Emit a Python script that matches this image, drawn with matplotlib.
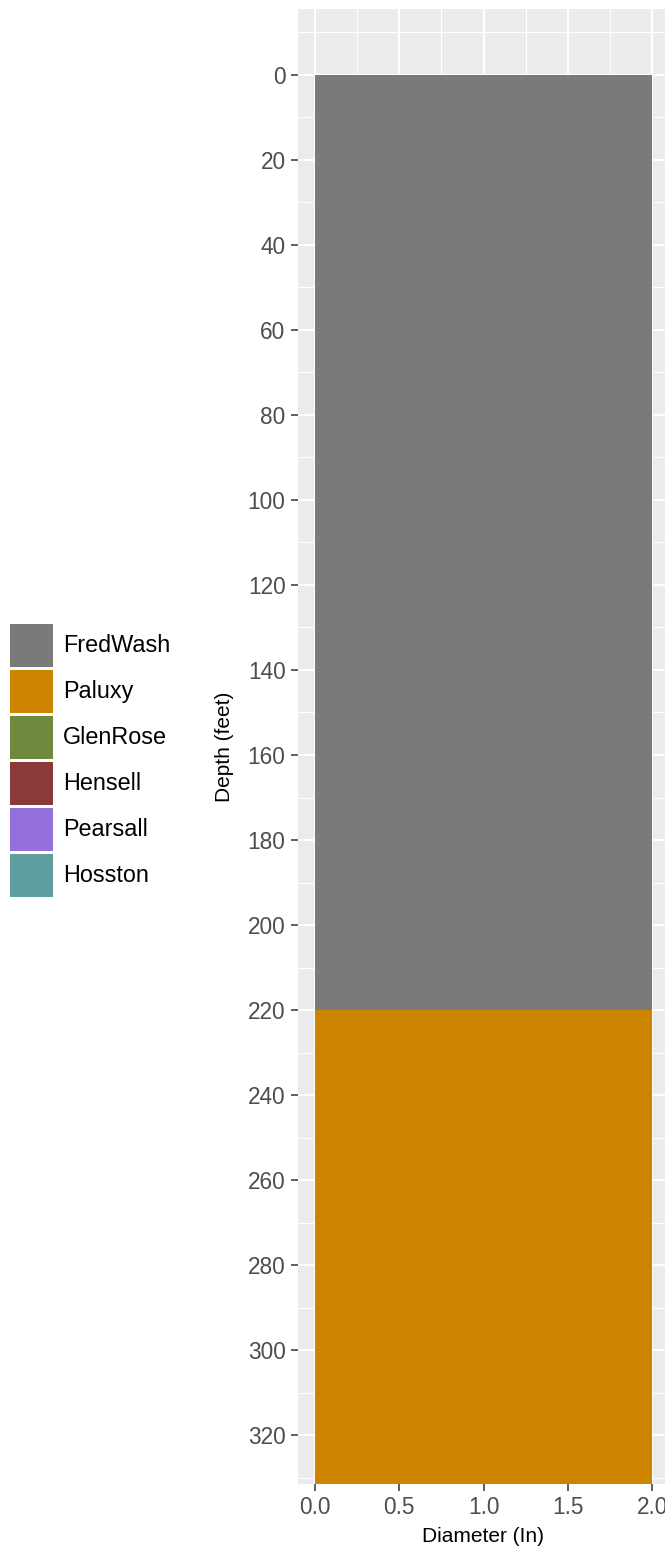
import numpy as np
import matplotlib
matplotlib.use("Agg")
import matplotlib.pyplot as plt
from matplotlib.patches import Rectangle

plt.rcParams['font.family'] = ['Liberation Sans', 'DejaVu Sans']

# formation column data
formations = ["FredWash", "Paluxy", "GlenRose", "Hensell", "Pearsall", "Hosston"]
colors = ["#7A7A7A", "#CD8500", "#6E8B3D", "#8B3A3A", "#9370DB", "#5F9EA0"]
top_depth = [0, 220]
bottom_depth = [220, 331.5]
diameter = 2.0

W, H = 665, 1551
fig = plt.figure(figsize=(W / 100, H / 100), dpi=100)

# main panel (right edge runs past the image, as in the reference)
left, right, bottom, top = 298, 669, 1484, 9
ax = fig.add_axes([left / W, 1 - bottom / H, (right - left) / W, (bottom - top) / H])
ax.set_facecolor("#EBEBEB")
for s in ax.spines.values():
    s.set_visible(False)

for i in range(len(top_depth)):
    ax.bar(0, bottom_depth[i] - top_depth[i], width=diameter, bottom=top_depth[i],
           align='edge', color=colors[i], edgecolor='none', zorder=3)

ax.set_xlim(-0.1, 2.1)
ax.set_ylim(331.5, -15.5)

ax.set_xticks(np.arange(0, 2.01, 0.5))
ax.set_xticks(np.arange(0.25, 2.1, 0.5), minor=True)
ax.set_xticklabels(["0.0", "0.5", "1.0", "1.5", "2.0"])
ax.set_yticks(np.arange(0, 321, 20))
ax.set_yticks(np.arange(-10, 331, 20), minor=True)

ax.grid(which='major', color='white', lw=1.4, zorder=1)
ax.grid(which='minor', color='white', lw=0.7, zorder=1)
ax.set_axisbelow(True)

ax.tick_params(which='major', length=5, width=1.1, color='#333333',
               labelcolor='#4D4D4D', labelsize=16.3, pad=4)
ax.tick_params(which='minor', length=0)

ax.set_xlabel("Diameter (In)", fontsize=15)
ax.set_ylabel("Depth (feet)", fontsize=15)
ax.xaxis.set_label_coords(0.5, (bottom - 1537) / (bottom - top))
ax.xaxis.label.set_va('center')
ax.yaxis.set_label_coords((225 - left) / (right - left), 0.5)
ax.yaxis.label.set_va('center')

# legend drawn as its own small axes
lax = fig.add_axes([0, 0, 1, 1])
lax.set_xlim(0, W)
lax.set_ylim(H, 0)
lax.axis('off')
for i, name in enumerate(formations):
    y0 = 624 + i * 46
    lax.add_patch(Rectangle((10, y0), 43, 43, facecolor=colors[i], edgecolor='none'))
    lax.text(63, y0 + 21.5, name, fontsize=16.8, va='center', ha='left', color='black')

fig.savefig("out.png", dpi=100)
